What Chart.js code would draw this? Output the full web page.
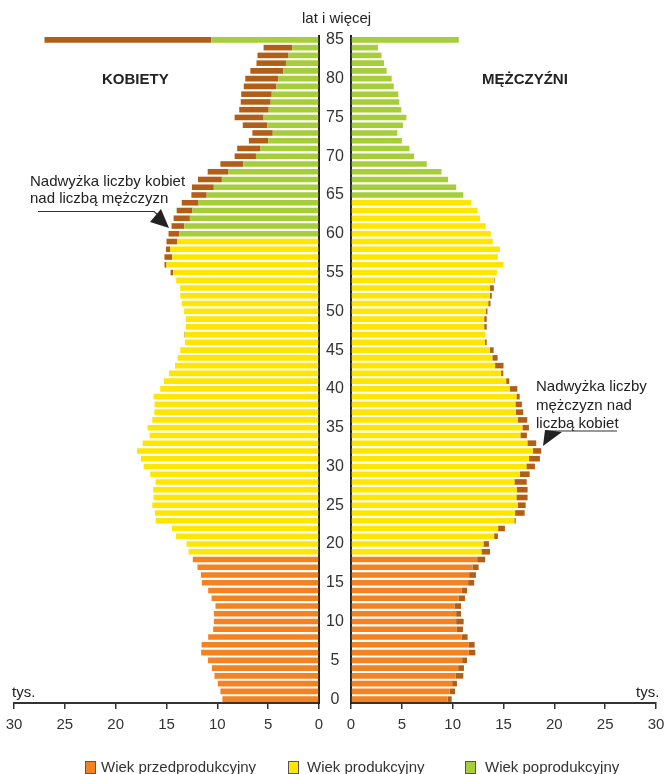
<!DOCTYPE html>
<html lang="pl">
<head>
<meta charset="utf-8">
<title>Piramida wieku</title>
<script src="https://cdn.jsdelivr.net/npm/chart.js@4.4.1/dist/chart.umd.min.js"></script>
<style>
  body { margin: 0; background: #fff; overflow: hidden; }
  #wrap { position: relative; width: 665px; height: 774px; font-family: "Liberation Sans", Arial, sans-serif; color: #222; }
  #wrap canvas { position: absolute; left: 0; top: 0; }
  .t { position: absolute; white-space: nowrap; font-size: 15px; line-height: 17px; color: #222; }
  .head { font-weight: bold; font-size: 15px; }
  .legend { position: absolute; top: 758px; left: 0; width: 665px; font-size: 15px; color: #333; }
  .legend span.box { position: absolute; top: 3px; width: 9px; height: 11px; border: 1px solid #555; }
  .legend span.lab { position: absolute; top: 0; }
  svg { position: absolute; left: 0; top: 0; }
</style>
</head>
<body>
<div id="wrap">
  <canvas id="left" width="665" height="741"></canvas>
  <canvas id="right" width="665" height="741"></canvas>

  <div class="t" style="left:302px;top:9px;">lat i więcej</div>
  <div class="t head" style="left:102px;top:70px;">KOBIETY</div>
  <div class="t head" style="left:482px;top:70px;">MĘŻCZYŹNI</div>
  <div class="t" style="left:30px;top:172px;">Nadwyżka liczby kobiet<br>nad liczbą mężczyzn</div>
  <div class="t" style="left:536px;top:377px;line-height:18.5px;">Nadwyżka liczby<br>mężczyzn nad<br>liczbą kobiet</div>
  <div class="t" style="left:12px;top:683px;">tys.</div>
  <div class="t" style="left:636px;top:683px;">tys.</div>

  <svg width="665" height="774">
    <polyline points="38,211.5 154,211.5 158,215" fill="none" stroke="#333" stroke-width="1.2"/>
    <polygon points="150,222 161,209 169,228" fill="#222"/>
    <line x1="545" y1="431" x2="617" y2="431" stroke="#333" stroke-width="1.2"/>
    <polygon points="545,430 562,432 543,446" fill="#222"/>
  </svg>

  <div class="legend">
    <span class="box" style="left:85px;background:#F58220;border-color:#8a4a14;"></span>
    <span class="lab" style="left:101px;">Wiek przedprodukcyjny</span>
    <span class="box" style="left:288px;background:#FFE600;border-color:#555;"></span>
    <span class="lab" style="left:307px;">Wiek produkcyjny</span>
    <span class="box" style="left:465px;background:#A6CE39;border-color:#555;"></span>
    <span class="lab" style="left:485px;">Wiek poprodukcyjny</span>
  </div>
</div>

<script>
// wiek 0..85 (85 = 85 lat i więcej), wartości w tys.
const ages = Array.from({ length: 86 }, (_, i) => i);

const kobiety = [
  9.5, 9.7, 9.95, 10.28, 10.54, 10.93, 11.59, 11.55, 10.9, 10.41,
  10.34, 10.34, 10.18, 10.57, 10.9, 11.52, 11.62, 11.95, 12.41, 12.83,
  13.03, 14.08, 14.47, 16.07, 16.14, 16.4, 16.27, 16.3, 16.07, 16.6,
  17.25, 17.51, 17.9, 17.35, 16.66, 16.86, 16.4, 16.2, 16.17, 16.27,
  15.62, 15.26, 14.76, 14.17, 13.9, 13.65, 13.18, 13.27, 13.1, 13.1,
  13.27, 13.5, 13.65, 13.65, 14.05, 14.6, 15.2, 15.2, 15.05, 15.0,
  14.8, 14.5, 14.3, 14.0, 13.5, 12.55, 12.5, 11.9, 10.95, 9.7,
  8.3, 8.05, 6.9, 6.55, 7.5, 8.3, 7.85, 7.7, 7.65, 7.4,
  7.25, 6.75, 6.15, 6.05, 5.45, 27.0
];

const mezczyzni = [
  9.9, 10.23, 10.42, 11.05, 11.11, 11.41, 12.23, 12.16, 11.47, 11.01,
  11.08, 10.82, 10.82, 11.21, 11.41, 12.12, 12.29, 12.55, 13.2, 13.67,
  13.57, 14.45, 15.14, 16.2, 17.08, 17.18, 17.37, 17.37, 17.28, 17.57,
  18.09, 18.58, 18.71, 18.22, 17.3, 17.5, 17.34, 16.94, 16.81, 16.59,
  16.36, 15.57, 14.98, 15.0, 14.42, 14.03, 13.35, 13.22, 13.35, 13.35,
  13.42, 13.72, 13.85, 14.05, 14.12, 14.35, 15.0, 14.45, 14.65, 13.95,
  13.75, 13.25, 12.7, 12.45, 11.85, 11.05, 10.35, 9.55, 8.9, 7.45,
  6.2, 5.75, 5.0, 4.55, 5.1, 5.45, 4.95, 4.75, 4.65, 4.2,
  4.0, 3.5, 3.25, 3.0, 2.65, 10.6
];

// granice grup wieku (ostatni rok grupy)
const przedprodKoniec = 18;
const prodKoniecK = 59;
const prodKoniecM = 64;

const kolory = {
  przed: '#F58220',
  prod: '#FFE600',
  po: '#A6CE39',
  nadwyzka: '#B35E17'
};

function kolorWieku(age, prodKoniec) {
  if (age <= przedprodKoniec) return kolory.przed;
  if (age <= prodKoniec) return kolory.prod;
  return kolory.po;
}

const font = { family: '"Liberation Sans", Arial, sans-serif', size: 15 };

function makeChart(id, own, other, prodKoniec, side) {
  const common = own.map((v, i) => Math.min(v, other[i]));
  const excess = own.map((v, i) => Math.max(v - other[i], 0));
  const left = side === 'left';

  return new Chart(document.getElementById(id), {
    type: 'bar',
    data: {
      labels: ages,
      datasets: [
        {
          data: common,
          backgroundColor: ages.map(a => kolorWieku(a, prodKoniec)),
          barPercentage: 0.72,
          categoryPercentage: 1
        },
        {
          data: excess,
          backgroundColor: kolory.nadwyzka,
          barPercentage: 0.72,
          categoryPercentage: 1
        }
      ]
    },
    options: {
      indexAxis: 'y',
      responsive: false,
      animation: false,
      layout: {
        padding: left
          ? { left: 14, right: 314, top: 36, bottom: 0 }
          : { left: 351, right: 9, top: 36, bottom: 0 }
      },
      plugins: { legend: { display: false }, tooltip: { enabled: false } },
      scales: {
        x: {
          type: 'linear',
          reverse: left,
          min: 0,
          max: 30,
          stacked: true,
          ticks: { stepSize: 5, color: '#333', font: font, padding: 7 },
          grid: { drawOnChartArea: false, tickLength: 6, color: '#333', lineWidth: 1.5 },
          border: { color: '#333', width: 2 },
          afterFit: s => { s.paddingLeft = 0; s.paddingRight = 0; }
        },
        y: {
          type: 'category',
          reverse: true,
          stacked: true,
          position: left ? 'right' : 'left',
          grid: { display: false, drawTicks: false, tickLength: 0 },
          border: { color: '#222', width: 2 },
          ticks: {
            display: left,
            autoSkip: false,
            crossAlign: 'center',
            padding: 7,
            color: '#333',
            font: { family: font.family, size: 16 },
            callback: (v, i) => (ages[i] % 5 === 0 ? String(ages[i]) : '')
          },
          afterFit: s => { s.width = left ? 32 : 0; }
        }
      }
    }
  });
}

makeChart('left', kobiety, mezczyzni, prodKoniecK, 'left');
makeChart('right', mezczyzni, kobiety, prodKoniecM, 'right');
</script>
</body>
</html>
